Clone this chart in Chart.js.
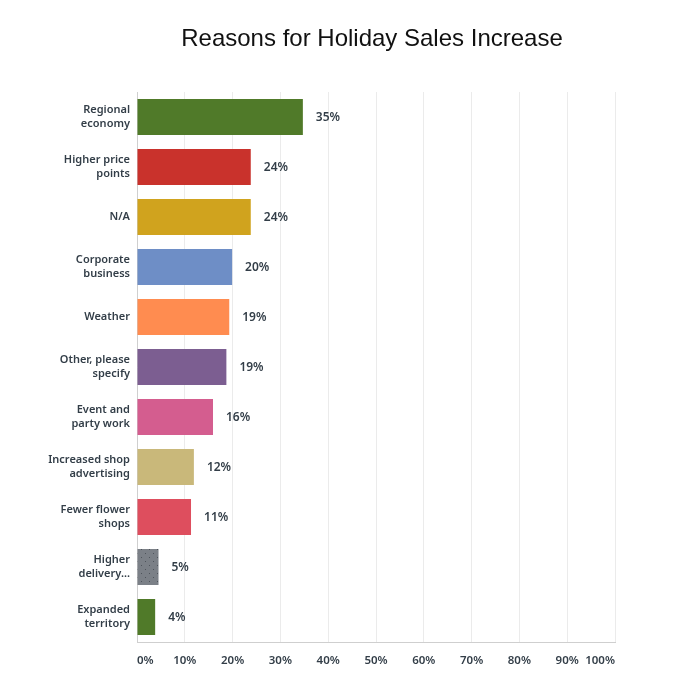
<!DOCTYPE html>
<html>
<head>
<meta charset="utf-8">
<script src="https://cdn.jsdelivr.net/npm/chart.js@4"></script>
<style>
  html, body { margin: 0; padding: 0; background: #fff; }
  #wrap { position: relative; width: 700px; height: 695px; }
  #title { position: absolute; top: 24px; left: 0; width: 700px; padding-left: 44px; box-sizing: border-box;
           text-align: center; font-family: "Liberation Sans", Arial, sans-serif; font-size: 24px; color: #111; }
  canvas { position: absolute; left: 0; top: 0; }
</style>
</head>
<body>
<div id="wrap">
  <canvas id="c" width="700" height="695"></canvas>
  <div id="title">Reasons for Holiday Sales Increase</div>
</div>
<script>
const categories = [
  ["Regional", "economy"],
  ["Higher price", "points"],
  ["N/A"],
  ["Corporate", "business"],
  ["Weather"],
  ["Other, please", "specify"],
  ["Event and", "party work"],
  ["Increased shop", "advertising"],
  ["Fewer flower", "shops"],
  ["Higher", "delivery..."],
  ["Expanded", "territory"]
];
const values = [34.7, 23.8, 23.8, 19.9, 19.3, 18.7, 15.9, 11.9, 11.3, 4.5, 3.8];
const valueLabels = ["35%", "24%", "24%", "20%", "19%", "19%", "16%", "12%", "11%", "5%", "4%"];
const tickValues = [0, 10, 20, 30, 40, 50, 60, 70, 80, 90, 100];
const barColors = ["#507a29", "#c9322c", "#d0a31e", "#6e8ec6", "#ff8c50", "#7c5e91", "#d45d8f", "#c9b87a", "#de4e5e", "PATTERN", "#507a29"];

function dotPattern() {
  const p = document.createElement("canvas");
  p.width = 8; p.height = 8;
  const g = p.getContext("2d");
  g.fillStyle = "#7b8087";
  g.fillRect(0, 0, 8, 8);
  g.fillStyle = "#4e545b";
  g.fillRect(1, 1, 1, 1);
  g.fillRect(5, 5, 1, 1);
  return g.createPattern(p, "repeat");
}
const ctx = document.getElementById("c").getContext("2d");
const pat = dotPattern();
const colors = barColors.map(c => c === "PATTERN" ? pat : c);

const valueLabelPlugin = {
  id: "valueLabels",
  afterDatasetsDraw(chart) {
    const c = chart.ctx;
    const meta = chart.getDatasetMeta(0);
    c.save();
    c.font = "600 12px 'Noto Sans'";
    c.fillStyle = "#333e48";
    c.textBaseline = "middle";
    c.textAlign = "left";
    meta.data.forEach((bar, i) => {
      c.fillText(valueLabels[i], bar.x + 13, bar.y + 1);
    });
    c.restore();
  }
};

Chart.defaults.font.family = "'Noto Sans'";
Chart.defaults.color = "#333e48";

new Chart(ctx, {
  type: "bar",
  data: {
    labels: categories,
    datasets: [{
      data: values,
      backgroundColor: colors,
      borderWidth: 0,
      barPercentage: 0.72,
      categoryPercentage: 1.0
    }]
  },
  options: {
    indexAxis: "y",
    responsive: false,
    animation: false,
    layout: { padding: { top: 92, right: 85, bottom: 0, left: 0 } },
    plugins: { legend: { display: false }, tooltip: { enabled: false } },
    scales: {
      x: {
        min: 0, max: 100,
        afterBuildTicks(scale) { scale.ticks = tickValues.map(v => ({ value: v })); },
        afterFit(scale) { scale.height = 53; },
        ticks: {
          align: "inner",
          padding: 12,
          callback: v => v + "%",
          font: { size: 11.5, weight: "600" },
          color: "#333e48"
        },
        grid: { color: "#ebebeb", drawTicks: false, lineWidth: 1 },
        border: { color: "#cfcfcf", width: 1 }
      },
      y: {
        afterFit(scale) { scale.width = 137; },
        ticks: {
          padding: 7,
          font: { size: 11, weight: "600", lineHeight: 1.3 },
          color: "#333e48"
        },
        grid: { display: false, drawTicks: false },
        border: { color: "#cfcfcf", width: 1 }
      }
    }
  },
  plugins: [valueLabelPlugin]
});
</script>
</body>
</html>
